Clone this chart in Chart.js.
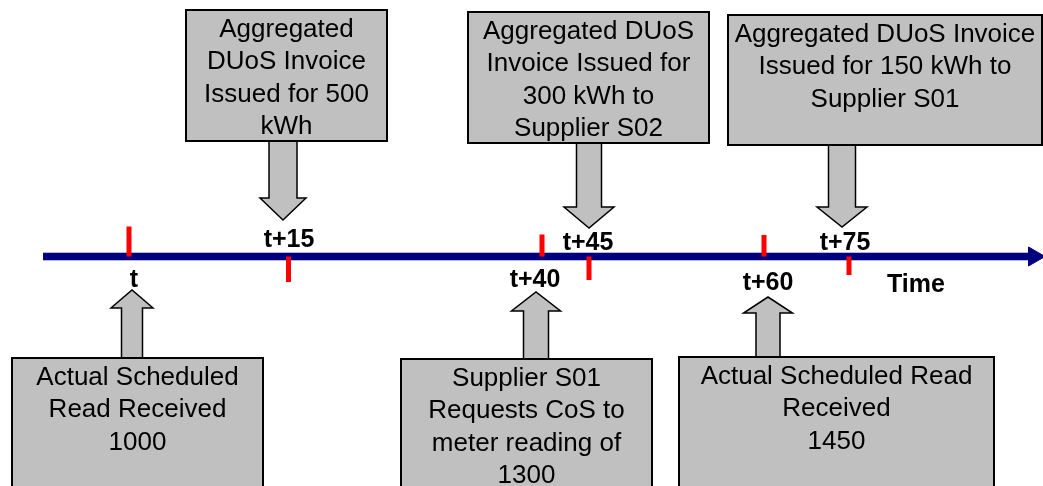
<!DOCTYPE html>
<html>
<head>
<meta charset="utf-8">
<script src="https://cdn.jsdelivr.net/npm/chart.js@4.4.1/dist/chart.umd.min.js"></script>
<style>
  html, body { margin: 0; padding: 0; background: #fff; }
  #wrap { width: 1043px; height: 486px; }
</style>
</head>
<body>
<div id="wrap"><canvas id="chart" width="1043" height="486"></canvas></div>
<script>
// timeline events: label and where it sits along the time axis
const eventLabels = ['t', 't+15', 't+40', 't+45', 't+60', 't+75'];
const eventPos = [129, 288.5, 542, 589, 764, 849];
const axisTitle = 'Time';

// box texts, top row (invoices) and bottom row (reads)
const topBoxText = [
    ['Aggregated', 'DUoS Invoice', 'Issued for 500', 'kWh'],
    ['Aggregated DUoS', 'Invoice Issued for', '300 kWh to', 'Supplier S02'],
    ['Aggregated DUoS Invoice', 'Issued for 150 kWh to', 'Supplier S01']
];
const bottomBoxText = [
    ['Actual Scheduled', 'Read Received', '1000'],
    ['Supplier S01', 'Requests CoS to', 'meter reading of', '1300'],
    ['Actual Scheduled Read', 'Received', '1450']
];

// layout (axis units = px of the 1043x486 frame)
const AXIS_Y = 256.5;
const AXIS_START = 43;
const AXIS_END = 1034;
const tickDir = [-1, 1, -1, 1, -1, 1];          // -1 above, 1 below
const tickLen = [30, 25.5, 22, 23.5, 21.5, 18.5];
const labelX = [134, 289, 535, 588, 768, 845];
const labelY = [287, 247, 287, 250, 290, 250];
const titlePos = { x: 916, y: 292 };

const topBoxes = [
    { l: 186, r: 387, t: 10, b: 141, ax: 283, sw: 28, hw: 46, hs: 198, tip: 220 },
    { l: 468, r: 709, t: 12, b: 143, ax: 589, sw: 25, hw: 50, hs: 207, tip: 228 },
    { l: 728, r: 1042, t: 15, b: 145, ax: 842, sw: 27, hw: 50, hs: 207, tip: 227 }
];
const bottomBoxes = [
    { l: 12, r: 263, t: 358, b: 492, ax: 132, sw: 21, hw: 42, hs: 308, tip: 290 },
    { l: 401, r: 652, t: 359, b: 492, ax: 536, sw: 25, hw: 49, hs: 311, tip: 292 },
    { l: 679, r: 994, t: 357, b: 492, ax: 768, sw: 24, hw: 49, hs: 313, tip: 297 }
];

const BOX_FILL = '#c0c0c0';
const BOX_FONT = '26px "Liberation Sans", Arial, sans-serif';
const LABEL_FONT = 'bold 25px "Liberation Sans", Arial, sans-serif';
const LINE_H = 32.5;

// red tick segments, broken with null so each tick is its own stroke
const tickData = [];
eventPos.forEach((x, i) => {
    tickData.push({ x: x, y: AXIS_Y });
    tickData.push({ x: x, y: AXIS_Y + tickDir[i] * tickLen[i] });
    tickData.push({ x: x, y: null });
});

function drawBlockArrow(ctx, xs, ys, b, shaftFrom) {
    const cx = b.ax;
    const pts = [
        [cx - b.sw / 2, shaftFrom], [cx + b.sw / 2, shaftFrom],
        [cx + b.sw / 2, b.hs], [cx + b.hw / 2, b.hs],
        [cx, b.tip],
        [cx - b.hw / 2, b.hs], [cx - b.sw / 2, b.hs]
    ];
    ctx.beginPath();
    pts.forEach((p, i) => {
        const px = xs.getPixelForValue(p[0]);
        const py = ys.getPixelForValue(p[1]);
        if (i === 0) ctx.moveTo(px, py); else ctx.lineTo(px, py);
    });
    ctx.closePath();
    ctx.fillStyle = BOX_FILL;
    ctx.fill();
    ctx.lineWidth = 1.5;
    ctx.strokeStyle = '#000';
    ctx.stroke();
}

function drawBox(ctx, xs, ys, b, lines) {
    const x1 = xs.getPixelForValue(b.l), x2 = xs.getPixelForValue(b.r);
    const y1 = ys.getPixelForValue(b.t), y2 = ys.getPixelForValue(b.b);
    ctx.fillStyle = BOX_FILL;
    ctx.fillRect(x1, y1, x2 - x1, y2 - y1);
    ctx.lineWidth = 2;
    ctx.strokeStyle = '#000';
    ctx.strokeRect(x1, y1, x2 - x1, y2 - y1);
    ctx.fillStyle = '#000';
    ctx.font = BOX_FONT;
    ctx.textAlign = 'center';
    ctx.textBaseline = 'alphabetic';
    const cx = (x1 + x2) / 2;
    lines.forEach((txt, i) => {
        ctx.fillText(txt, cx, ys.getPixelForValue(b.t + 26.5 + i * LINE_H));
    });
}

const diagramPlugin = {
    id: 'diagram',
    beforeDatasetsDraw(chart) {
        const ctx = chart.ctx;
        const xs = chart.scales.x, ys = chart.scales.y;
        ctx.save();
        topBoxes.forEach((b, i) => {
            drawBlockArrow(ctx, xs, ys, b, b.b);
            drawBox(ctx, xs, ys, b, topBoxText[i]);
        });
        bottomBoxes.forEach((b, i) => {
            drawBlockArrow(ctx, xs, ys, b, b.t);
            drawBox(ctx, xs, ys, b, bottomBoxText[i]);
        });
        ctx.restore();
    },
    afterDatasetsDraw(chart) {
        const ctx = chart.ctx;
        const xs = chart.scales.x, ys = chart.scales.y;
        ctx.save();
        ctx.fillStyle = '#000';
        ctx.font = LABEL_FONT;
        ctx.textAlign = 'center';
        ctx.textBaseline = 'alphabetic';
        eventLabels.forEach((lbl, i) => {
            ctx.fillText(lbl, xs.getPixelForValue(labelX[i]), ys.getPixelForValue(labelY[i]));
        });
        ctx.fillText(axisTitle, xs.getPixelForValue(titlePos.x), ys.getPixelForValue(titlePos.y));
        ctx.restore();
    }
};

new Chart(document.getElementById('chart'), {
    type: 'scatter',
    data: {
        datasets: [
            {
                // red event ticks
                data: tickData,
                showLine: true,
                spanGaps: false,
                borderColor: '#ff0000',
                borderWidth: 5,
                borderCapStyle: 'butt',
                pointRadius: 0,
                order: 0
            },
            {
                // arrow head of the time axis
                data: [{ x: AXIS_END, y: AXIS_Y }],
                pointStyle: 'triangle',
                rotation: 90,
                pointRadius: 11,
                backgroundColor: '#000080',
                borderColor: '#000080',
                borderWidth: 1,
                order: 1
            },
            {
                // time axis
                data: [{ x: AXIS_START, y: AXIS_Y }, { x: AXIS_END - 4, y: AXIS_Y }],
                showLine: true,
                borderColor: '#000080',
                borderWidth: 7,
                borderCapStyle: 'butt',
                pointRadius: 0,
                order: 2
            },
            {
                // soft edge round the axis
                data: [{ x: AXIS_START, y: AXIS_Y }, { x: AXIS_END - 4, y: AXIS_Y }],
                showLine: true,
                borderColor: '#b4b4dc',
                borderWidth: 9,
                borderCapStyle: 'butt',
                pointRadius: 0,
                order: 3
            }
        ]
    },
    options: {
        responsive: false,
        animation: false,
        devicePixelRatio: 1,
        layout: { padding: 0, autoPadding: false },
        plugins: { legend: { display: false }, tooltip: { enabled: false } },
        events: [],
        scales: {
            x: { type: 'linear', min: 0, max: 1043, display: false },
            y: { type: 'linear', min: 0, max: 486, reverse: true, display: false }
        }
    },
    plugins: [diagramPlugin]
});
</script>
</body>
</html>
